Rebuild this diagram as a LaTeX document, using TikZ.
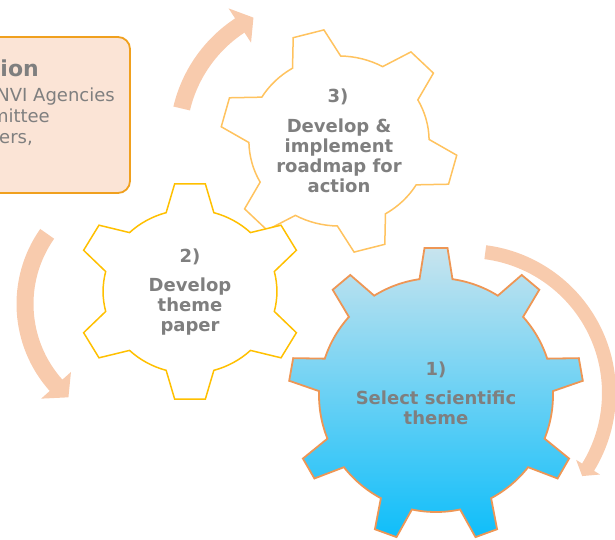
\documentclass[tikz,border=0pt]{standalone}
\usepackage{fontspec}
\setmainfont{DejaVu Sans}
\definecolor{arrowc}{RGB}{248,203,173}
\definecolor{boxfill}{RGB}{251,228,214}
\definecolor{boxdraw}{RGB}{240,160,30}
\definecolor{gearone}{RGB}{238,150,85}
\definecolor{geartwo}{RGB}{255,192,0}
\definecolor{gearthree}{RGB}{255,195,95}
\definecolor{txt}{RGB}{127,127,127}
\definecolor{blueTop}{RGB}{200,228,238}
\definecolor{blueBot}{RGB}{15,190,250}
% #1 options, #2 teeth, #3 rotation, #4 inner radius, #5 outer radius, #6 half base width, #7 half tip width
\newcommand\mygear[7]{%
  \pgfmathsetmacro\gb{asin(#6/#4)}%
  \pgfmathsetmacro\gt{asin(#7/#5)}%
  \pgfmathsetmacro\gs{360/#2}%
  \path[#1] ({#3-\gb}:#4pt)
    \foreach \k in {1,...,#2}{
      -- ({#3+(\k-1)*\gs-\gt}:#5pt) -- ({#3+(\k-1)*\gs+\gt}:#5pt) -- ({#3+(\k-1)*\gs+\gb}:#4pt)
      arc[start angle={#3+(\k-1)*\gs+\gb}, end angle={#3+\k*\gs-\gb}, radius=#4pt]
    } -- cycle;%
}
% #1 start angle, #2 base angle, #3 tip angle, #4 radius, #5 half shaft, #6 half head
\newcommand\myarrow[6]{%
  \pgfmathsetmacro\ri{#4-#5}\pgfmathsetmacro\ro{#4+#5}%
  \pgfmathsetmacro\hi{#4-#6}\pgfmathsetmacro\ho{#4+#6}%
  \fill[arrowc] (#1:\ri pt) arc[start angle=#1, end angle=#2, radius=\ri pt]
    -- (#2:\hi pt) -- (#3:#4pt) -- (#2:\ho pt) -- (#2:\ro pt)
    arc[start angle=#2, end angle=#1, radius=\ro pt] -- cycle;%
}
\tikzset{
  gtext/.style={font=\bfseries\fontsize{18}{20}\selectfont, text=txt, align=center, inner sep=0pt},
  btext/.style={font=\fontsize{18}{20}\selectfont, text=txt, inner sep=0pt, anchor=base east},
}
\begin{document}
\begin{tikzpicture}[x=1pt,y=1pt]
\useasboundingbox (0,-540) rectangle (615,0);
% curved arrows
\begin{scope}[shift={(315,-140)}]
  \myarrow{166.7}{123.3}{116.7}{137}{8.5}{20.5}
\end{scope}
\begin{scope}[shift={(467,-393)}]
  \myarrow{82.6}{-31.5}{-35.8}{142}{7}{14}
\end{scope}
\begin{scope}[shift={(147,-304)}]
  \myarrow{144.9}{221.8}{229.9}{122}{8.5}{20}
\end{scope}
% text box
\draw[boxdraw, fill=boxfill, line width=1.8pt, rounded corners=12pt] (-20,-37) rectangle (130,-193);
\node[font=\bfseries\fontsize{22}{26}\selectfont, text=txt, anchor=base east, inner sep=0pt] (btitle) at (39,-77) {ion};
\node[btext] (bl1) at (115,-101.5) {NVI Agencies};
\node[btext] (bl2) at (50,-122.5) {mittee};
\node[btext] (bl3) at (33,-143.5) {ers,};
% gear 3
\begin{scope}[shift={(339,-141)}, xscale=1.06]
  \mygear{draw=gearthree, fill=white, line width=1.5pt}{6}{45}{85}{112}{23.5}{15}
\end{scope}
% gear 2
\begin{scope}[shift={(190,-291.5)}, xscale=1.06]
  \mygear{draw=geartwo, fill=white, line width=1.5pt}{6}{90}{82}{108.5}{22.5}{14.5}
\end{scope}
% gear 1
\begin{scope}[shift={(436,-395)}]
  \mygear{draw=gearone, top color=blueTop, bottom color=blueBot, line width=1.8pt}{9}{90}{117}{147.5}{16.5}{11.5}
\end{scope}
% gear texts
\node[gtext] (g3num) at (338,-97) {3)};
\node[gtext] (g3txt) at (339,-156) {Develop \&\\implement\\roadmap for\\action};
\node[gtext] (g2num) at (190,-257) {2)};
\node[gtext] (g2txt) at (190,-306.5) {Develop\\theme\\paper};
\node[gtext] (g1num) at (436,-370) {1)};
\node[gtext] (g1txt) at (436,-408) {Select scientific\\theme};
\end{tikzpicture}
\end{document}
